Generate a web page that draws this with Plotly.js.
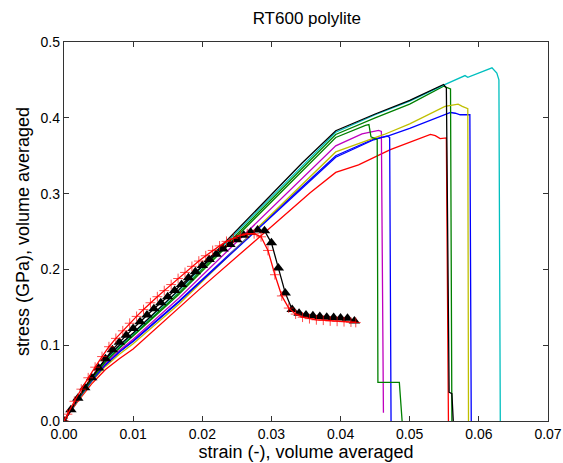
<!DOCTYPE html>
<html>
<head>
<meta charset="utf-8">
<script src="https://cdn.plot.ly/plotly-3.0.1.min.js"></script>
<style>html,body{margin:0;padding:0;background:#fff;}#chart{width:563px;height:463px;}</style>
</head>
<body>
<div id="chart"></div>
<script>
// ---- data ----
var blueX  = [0,0.002,0.004,0.006,0.008,0.010,0.0166,0.0393,0.0448,0.0467,0.050,0.0554,0.0559,0.0566,0.0573,0.0587,0.0589];
var blueY  = [0,0.028,0.053,0.074,0.091,0.106,0.158,0.350,0.372,0.3756,0.386,0.406,0.407,0.406,0.404,0.404,0];
var greenX = [0,0.002,0.004,0.006,0.008,0.010,0.0166,0.0393,0.045,0.050,0.0549,0.0559,0.0561];
var greenY = [0,0.029,0.056,0.079,0.097,0.113,0.169,0.378,0.400,0.418,0.4417,0.438,0];
var redX   = [0,0.002,0.004,0.006,0.008,0.009,0.010,0.0195,0.0356,0.0393,0.0417,0.0426,0.0472,0.053,0.0537,0.0544,0.0553,0.0556];
var redY   = [0,0.026,0.049,0.068,0.082,0.088,0.095,0.173,0.301,0.328,0.336,0.338,0.358,0.378,0.3765,0.3725,0.3734,0];
var cyanX  = [0,0.002,0.004,0.006,0.008,0.010,0.0166,0.0393,0.045,0.050,0.0549,0.058,0.0584,0.0619,0.0626,0.0629,0.0631];
var cyanY  = [0,0.030,0.057,0.081,0.099,0.115,0.172,0.381,0.404,0.422,0.443,0.4557,0.4535,0.466,0.459,0.450,0];
var magX   = [0,0.002,0.004,0.006,0.008,0.010,0.0166,0.0393,0.0431,0.0455,0.0459,0.0462];
var magY   = [0,0.028,0.054,0.076,0.093,0.108,0.162,0.363,0.3787,0.3835,0.382,0.011];
var yelX   = [0,0.002,0.004,0.006,0.008,0.010,0.0166,0.0393,0.0463,0.050,0.0551,0.057,0.0576,0.0584,0.0585];
var yelY   = [0,0.027,0.052,0.072,0.088,0.102,0.154,0.355,0.378,0.392,0.415,0.418,0.415,0.412,0];
var blackX = [0,0.002,0.004,0.006,0.008,0.010,0.0166,0.0344,0.0393,0.045,0.050,0.0549,0.0553,0.0557,0.0561,0.0563];
var blackY = [0,0.030,0.058,0.082,0.100,0.116,0.173,0.340,0.383,0.405,0.423,0.444,0.4395,0.038,0.036,0];
var blue2X = [0,0.002,0.004,0.006,0.008,0.010,0.0166,0.0393,0.0448,0.0467,0.0471,0.0473];
var blue2Y = [0,0.028,0.053,0.074,0.091,0.105,0.157,0.348,0.371,0.376,0.374,0];
var green2X= [0,0.002,0.004,0.006,0.008,0.010,0.0166,0.0393,0.0436,0.0441,0.0444,0.0453,0.0454,0.0485,0.0489];
var green2Y= [0,0.029,0.055,0.078,0.096,0.112,0.167,0.374,0.390,0.391,0.375,0.371,0.051,0.051,0];

var triX = [0,0.001,0.002,0.003,0.004,0.005,0.006,0.007,0.008,0.009,0.010,0.011,0.012,0.013,0.014,0.015,0.016,0.017,0.018,0.019,0.020,0.021,0.022,0.023,0.024,0.025,0.026,0.027,0.028,0.029,0.030,0.031,0.032,0.033,0.034,0.035,0.036,0.037,0.038,0.039,0.040,0.041,0.042];
var triY = [0,0.015,0.030,0.044,0.057,0.070,0.082,0.094,0.104,0.113,0.122,0.131,0.140,0.148,0.156,0.164,0.172,0.180,0.189,0.197,0.205,0.213,0.220,0.227,0.233,0.239,0.245,0.249,0.252,0.251,0.235,0.202,0.169,0.147,0.142,0.140,0.139,0.138,0.137,0.1365,0.136,0.1355,0.132];

var plusX = [0,0.0005,0.0015,0.0025,0.0035,0.0045,0.0055,0.0065,0.0075,0.0085,0.0095,0.0105,0.0115,0.0125,0.0135,0.0145,0.0155,0.0165,0.0175,0.0185,0.0195,0.0205,0.0215,0.0225,0.0235,0.0245,0.0255,0.0265,0.0275,0.0285,0.0295,0.0305,0.0315,0.0325,0.0335,0.0345,0.0355,0.0365,0.0375,0.0385,0.0395,0.0405,0.0415,0.0422];
var plusY = [0,0.009,0.026,0.042,0.057,0.071,0.085,0.098,0.109,0.119,0.129,0.138,0.147,0.156,0.164,0.172,0.180,0.188,0.196,0.204,0.211,0.218,0.225,0.231,0.237,0.241,0.245,0.247,0.247,0.243,0.225,0.193,0.165,0.149,0.141,0.137,0.135,0.1335,0.133,0.132,0.1315,0.131,0.1305,0.130];

var xTicks = [0,0.01,0.02,0.03,0.04,0.05,0.06,0.07];
var xTickText = ['0.00','0.01','0.02','0.03','0.04','0.05','0.06','0.07'];
var yTicks = [0,0.1,0.2,0.3,0.4,0.5];
var yTickText = ['0.0','0.1','0.2','0.3','0.4','0.5'];

var LW = 1.3;
function line(x, y, c) {
  return {x: x, y: y, type: 'scatter', mode: 'lines', line: {color: c, width: LW}, hoverinfo: 'skip'};
}
var traces = [
  line(blueX, blueY, '#0000ff'),
  line(greenX, greenY, '#008000'),
  line(redX, redY, '#ff0000'),
  line(cyanX, cyanY, '#00bfbf'),
  line(magX, magY, '#bf00bf'),
  line(yelX, yelY, '#bfbf00'),
  line(blackX, blackY, '#000000'),
  line(blue2X, blue2Y, '#0000ff'),
  line(green2X, green2Y, '#008000'),
  {x: triX, y: triY, type: 'scatter', mode: 'lines+markers',
   line: {color: '#000000', width: LW},
   marker: {symbol: 'triangle-up', size: 10, color: '#000000'}, hoverinfo: 'skip'},
  {x: plusX, y: plusY, type: 'scatter', mode: 'lines+markers',
   line: {color: '#ff0000', width: LW},
   marker: {symbol: 'cross-thin', size: 7, line: {color: 'rgba(255,0,0,0.7)', width: 1}}, hoverinfo: 'skip'}
];

var font = 'Liberation Sans, Arial, Helvetica, sans-serif';
var layout = {
  width: 563, height: 463,
  margin: {l: 64, r: 15, t: 42, b: 42},
  paper_bgcolor: '#ffffff', plot_bgcolor: '#ffffff',
  showlegend: false,
  font: {family: font, color: '#000000'},
  title: {text: 'RT600 polylite', font: {family: font, size: 17, color: '#000'}, x: 0.545, xanchor: 'center', y: 0.962, yanchor: 'middle'},
  xaxis: {
    range: [0, 0.07], tickvals: xTicks, ticktext: xTickText,
    ticks: 'inside', ticklen: 5, tickcolor: '#333', mirror: 'ticks',
    showline: true, linecolor: '#333', linewidth: 1.2, showgrid: false, zeroline: false,
    tickfont: {family: font, size: 14, color: '#000'},
    title: {text: 'strain (-), volume averaged', font: {family: font, size: 18, color: '#000'}, standoff: 2}
  },
  yaxis: {
    range: [0, 0.5], tickvals: yTicks, ticktext: yTickText,
    ticks: 'inside', ticklen: 5, tickcolor: '#333', mirror: 'ticks',
    showline: true, linecolor: '#333', linewidth: 1.2, showgrid: false, zeroline: false,
    tickfont: {family: font, size: 14, color: '#000'},
    title: {text: 'stress (GPa), volume averaged', font: {family: font, size: 18, color: '#000'}, standoff: 6}
  }
};
Plotly.newPlot('chart', traces, layout, {displayModeBar: false, staticPlot: true});
</script>
</body>
</html>
